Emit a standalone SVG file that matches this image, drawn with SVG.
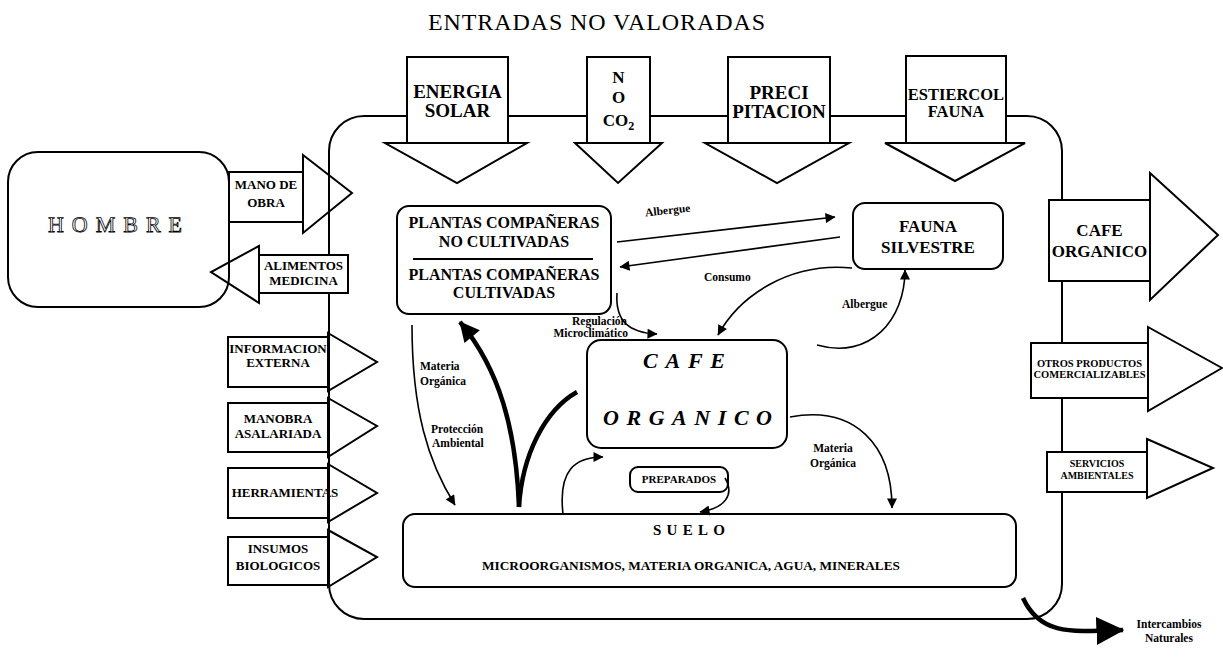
<svg xmlns="http://www.w3.org/2000/svg" width="1223" height="658" viewBox="0 0 1223 658">
<defs>
<marker id="ah" viewBox="0 0 10 10" refX="9.5" refY="5" markerWidth="13" markerHeight="10" markerUnits="userSpaceOnUse" orient="auto"><path d="M0,0 L10,5 L0,10 z" fill="#000"/></marker>
<marker id="ahb" viewBox="0 0 10 10" refX="9.5" refY="5" markerWidth="22" markerHeight="20" markerUnits="userSpaceOnUse" orient="auto"><path d="M0,0 L10,5 L0,10 z" fill="#000"/></marker>
<marker id="ahx" viewBox="0 0 10 10" refX="9.5" refY="5" markerWidth="28" markerHeight="28" markerUnits="userSpaceOnUse" orient="auto"><path d="M0,0 L10,5 L0,10 z" fill="#000"/></marker>
</defs>
<style>
.b{fill:#fff;stroke:#000;stroke-width:2}
.o{fill:none;stroke:#000;stroke-width:2}
.t{font-family:"Liberation Serif","Times New Roman",serif;font-weight:bold;fill:#000;text-anchor:middle}
.l{font-family:"Liberation Serif","Times New Roman",serif;font-weight:bold;fill:#000;font-size:11.5px}
.c{fill:none;stroke:#000;stroke-width:1.6}
.ck{fill:none;stroke:#000;stroke-width:4.5}
</style>
<rect width="1223" height="658" fill="#fff"/>
<text x="428" y="30" textLength="337" lengthAdjust="spacing" style="font-family:'Liberation Serif','Times New Roman',serif;font-size:24px;fill:#000">ENTRADAS NO VALORADAS</text>

<g id="sistema"><rect class="o" x="329" y="116" width="733" height="503" rx="35"/></g>

<g id="energia-solar">
<rect class="b" x="407" y="57" width="101" height="86"/>
<polygon class="b" points="385,143 527,143 457,183"/>
<text class="t" x="457.5" y="98" font-size="19">ENERGIA</text>
<text class="t" x="457.5" y="117" font-size="19">SOLAR</text>
</g>
<g id="n-o-co2">
<rect class="b" x="587" y="57" width="63" height="86"/>
<polygon class="b" points="575,143 662,143 618,183"/>
<text class="t" x="618.5" y="83" font-size="17">N</text>
<text class="t" x="618.5" y="103" font-size="17">O</text>
<text class="t" x="618.5" y="126" font-size="17">CO<tspan font-size="12" dy="4">2</tspan></text>
</g>
<g id="precipitacion">
<rect class="b" x="728" y="57" width="102" height="86"/>
<polygon class="b" points="705,143 849,143 777,183"/>
<text class="t" x="779" y="99" font-size="19">PRECI</text>
<text class="t" x="779" y="118" font-size="19">PITACION</text>
</g>
<g id="estiercol-fauna">
<rect class="b" x="906" y="56" width="100" height="87"/>
<polygon class="b" points="885,143 1025,143 955,181"/>
<text class="t" x="956" y="100" font-size="16.5">ESTIERCOL</text>
<text class="t" x="956" y="117" font-size="16.5">FAUNA</text>
</g>

<g id="hombre">
<rect class="o" x="8" y="152" width="221" height="155" rx="30"/>
<text x="48" y="232" textLength="134" lengthAdjust="spacing" text-rendering="geometricPrecision" style="font-family:'Liberation Serif','Times New Roman',serif;font-size:22px;fill:none;stroke:#000;stroke-width:0.8">HOMBRE</text>
</g>
<g id="mano-de-obra">
<rect class="b" x="229" y="172" width="74" height="50"/>
<polygon class="o" points="303,155 352,193 303,233"/>
<text class="t" x="266" y="189" font-size="13">MANO DE</text>
<text class="t" x="266" y="207" font-size="13">OBRA</text>
</g>
<g id="alimentos-medicina">
<rect class="b" x="259" y="255" width="89" height="38"/>
<polygon class="o" points="259,246 211,272 259,303"/>
<text class="t" x="303.5" y="270" font-size="13">ALIMENTOS</text>
<text class="t" x="303.5" y="285" font-size="13">MEDICINA</text>
</g>

<g id="informacion-externa">
<rect class="b" x="228" y="337" width="100" height="50"/>
<polygon class="o" points="328,333 377,362 328,391"/>
<text class="t" x="278" y="353" font-size="13">INFORMACION</text>
<text class="t" x="278" y="367" font-size="13">EXTERNA</text>
</g>
<g id="manobra-asalariada">
<rect class="b" x="228" y="403" width="100" height="49"/>
<polygon class="o" points="328,398 377,426 328,457"/>
<text class="t" x="278" y="423" font-size="13">MANOBRA</text>
<text class="t" x="278" y="438" font-size="13">ASALARIADA</text>
</g>
<g id="herramientas">
<rect class="b" x="228" y="468" width="100" height="50"/>
<polygon class="o" points="328,464 377,493 328,522"/>
<text class="t" x="285" y="497" font-size="13">HERRAMIENTAS</text>
</g>
<g id="insumos-biologicos">
<rect class="b" x="228" y="537" width="100" height="48"/>
<polygon class="o" points="328,530 377,557 328,587"/>
<text class="t" x="278" y="553" font-size="13">INSUMOS</text>
<text class="t" x="278" y="570" font-size="13">BIOLOGICOS</text>
</g>

<g id="salida-cafe-organico">
<rect class="b" x="1049" y="200" width="101" height="81"/>
<polygon class="o" points="1150,173 1218,235 1150,300"/>
<text class="t" x="1099.5" y="236" font-size="17">CAFE</text>
<text class="t" x="1099.5" y="257" font-size="17">ORGANICO</text>
</g>
<g id="otros-productos">
<rect class="b" x="1031" y="343" width="117" height="55"/>
<polygon class="o" points="1148,327 1222,368 1148,411"/>
<text class="t" x="1089.5" y="367" font-size="10.5">OTROS PRODUCTOS</text>
<text class="t" x="1089.5" y="378" font-size="10.5">COMERCIALIZABLES</text>
</g>
<g id="servicios-ambientales">
<rect class="b" x="1047" y="452" width="100" height="40"/>
<polygon class="o" points="1147,439 1213,468 1147,498"/>
<text class="t" x="1097" y="467" font-size="10">SERVICIOS</text>
<text class="t" x="1097" y="479" font-size="10">AMBIENTALES</text>
</g>

<g id="plantas">
<rect class="b" x="397" y="206" width="214" height="108" rx="12"/>
<line x1="413" y1="259" x2="593" y2="259" stroke="#000" stroke-width="2"/>
<text class="t" x="504" y="228" font-size="16">PLANTAS COMPAÑERAS</text>
<text class="t" x="504" y="247" font-size="16">NO CULTIVADAS</text>
<text class="t" x="504" y="280" font-size="16">PLANTAS COMPAÑERAS</text>
<text class="t" x="504" y="298" font-size="16">CULTIVADAS</text>
</g>
<g id="fauna-silvestre">
<rect class="b" x="853" y="203" width="150" height="66" rx="12"/>
<text class="t" x="928" y="232" font-size="17">FAUNA</text>
<text class="t" x="928" y="253" font-size="17">SILVESTRE</text>
</g>
<g id="cafe-organico">
<rect class="b" x="587" y="340" width="200" height="108" rx="14"/>
<text x="643" y="368" textLength="82" lengthAdjust="spacing" style="font-family:'Liberation Serif','Times New Roman',serif;font-weight:bold;font-style:italic;font-size:22px;fill:#000">CAFE</text>
<text x="603" y="425" textLength="169" lengthAdjust="spacing" style="font-family:'Liberation Serif','Times New Roman',serif;font-weight:bold;font-style:italic;font-size:22px;fill:#000">ORGANICO</text>
</g>
<g id="suelo">
<rect class="b" x="403" y="514" width="613" height="73" rx="12"/>
<text x="653" y="535" textLength="72" lengthAdjust="spacing" style="font-family:'Liberation Serif','Times New Roman',serif;font-weight:bold;font-size:15px;fill:#000">SUELO</text>
<text x="482" y="570" textLength="418" lengthAdjust="spacingAndGlyphs" style="font-family:'Liberation Serif','Times New Roman',serif;font-weight:bold;font-size:13px;fill:#000">MICROORGANISMOS, MATERIA ORGANICA, AGUA, MINERALES</text>
</g>
<g id="preparados">
<rect class="b" x="630" y="467" width="98" height="25" rx="8"/>
<text class="t" x="679" y="483" font-size="11">PREPARADOS</text>
</g>

<g id="conectores">
<path class="c" d="M617,242 L835,217" marker-end="url(#ah)"/>
<path class="c" d="M840,237 L620,267" marker-end="url(#ah)"/>
<path class="c" d="M852,268 C790,262 740,295 718,335" marker-end="url(#ah)"/>
<path class="c" d="M617,293 C615,322 630,333 657,334" marker-end="url(#ah)"/>
<path class="c" d="M817,345 C870,360 905,320 905,270" marker-end="url(#ah)"/>
<path class="c" d="M412,325 C412,410 428,462 455,505" marker-end="url(#ah)"/>
<path class="c" d="M563,514 C558,470 575,457 603,457" marker-end="url(#ah)"/>
<path class="c" d="M725,478 C735,495 725,508 700,512" marker-end="url(#ah)"/>
<path class="c" d="M790,417 C855,405 892,445 892,508" marker-end="url(#ah)"/>
<path class="ck" d="M519,507 C516,430 500,370 460,322" marker-end="url(#ahb)"/>
<path class="ck" d="M519,507 C522,455 545,410 577,392"/>
<path class="ck" d="M1023,598 C1040,635 1070,632 1123,630" marker-end="url(#ahx)"/>
<text class="l" x="645" y="214" transform="rotate(-6 668 210)">Albergue</text>
<text class="l" x="704" y="281">Consumo</text>
<text class="l" x="627" y="325" text-anchor="end">Regulación</text>
<text class="l" x="628" y="337" text-anchor="end">Microclimático</text>
<text class="l" x="842" y="308">Albergue</text>
<text class="l" x="420" y="370">Materia</text>
<text class="l" x="420" y="385">Orgánica</text>
<text class="l" x="431" y="433">Protección</text>
<text class="l" x="432" y="447">Ambiental</text>
<text class="l" x="833" y="452" text-anchor="middle">Materia</text>
<text class="l" x="833" y="467" text-anchor="middle">Orgánica</text>
<text class="l" x="1169" y="628" text-anchor="middle">Intercambios</text>
<text class="l" x="1169" y="642" text-anchor="middle">Naturales</text>
</g>
</svg>
